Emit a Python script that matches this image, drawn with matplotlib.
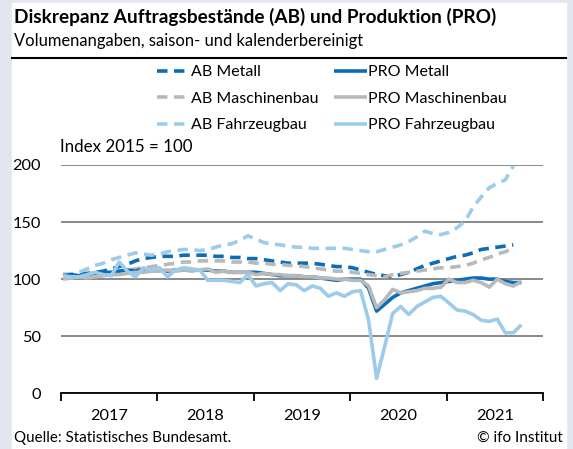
import matplotlib.pyplot as plt
from matplotlib.lines import Line2D
import numpy as np

plt.rcParams['font.family'] = ['Lato', 'DejaVu Sans']

# monthly index values, Jan 2017 onwards (Index 2015 = 100)
years = ['2017', '2018', '2019', '2020', '2021']

ab_metall = [104, 104, 105, 105, 106, 107, 109, 111, 113, 116, 118, 119,
             120, 120, 120, 121, 121, 121, 121, 120, 120, 119, 119, 118,
             118, 117, 116, 115, 114, 114, 114, 114, 113, 112, 111, 111,
             110, 108, 106, 104, 103, 102, 104, 106, 109, 112, 114, 116,
             118, 120, 121, 123, 126, 127, 128, 129, 130]
ab_maschinenbau = [101, 101, 102, 103, 104, 105, 106, 107, 108, 109, 110, 111,
                   112, 113, 114, 115, 115, 116, 116, 116, 116, 115, 115, 115,
                   114, 114, 113, 113, 112, 112, 111, 110, 109, 108, 107, 107,
                   106, 105, 104, 103, 102, 104, 105, 106, 107, 108, 109, 110,
                   110, 111, 112, 114, 117, 119, 122, 124, 127]
ab_fahrzeugbau = [104, 104, 106, 109, 112, 114, 117, 119, 121, 123, 122, 121,
                  122, 124, 125, 126, 126, 125, 126, 128, 130, 131, 134, 138,
                  135, 132, 131, 130, 129, 128, 128, 127, 127, 127, 127, 127,
                  126, 125, 124, 124, 126, 128, 130, 133, 137, 142, 140, 139,
                  141, 145, 151, 163, 172, 180, 184, 187, 199]

pro_metall = [103, 104, 103, 104, 105, 106, 106, 107, 108, 107, 109, 108,
              108, 107, 108, 108, 108, 108, 108, 107, 107, 106, 106, 106,
              106, 105, 104, 103, 103, 103, 102, 102, 101, 100, 99, 100,
              100, 100, 92, 72, 78, 84, 88, 90, 92, 94, 96, 97,
              98, 99, 100, 101, 101, 100, 100, 98, 97, 97]
pro_maschinenbau = [100, 101, 102, 101, 102, 103, 104, 104, 105, 106, 106, 107,
                    107, 108, 107, 108, 107, 108, 109, 106, 107, 106, 106, 106,
                    104, 105, 104, 104, 103, 103, 102, 102, 101, 101, 100, 100,
                    99, 99, 94, 75, 82, 91, 88, 89, 90, 92, 92, 93,
                    100, 97, 97, 99, 97, 93, 100, 96, 94, 98]
pro_fahrzeugbau = [103, 102, 102, 104, 106, 104, 103, 115, 107, 102, 110, 108,
                   110, 102, 108, 110, 109, 108, 99, 99, 99, 98, 97, 104,
                   94, 96, 97, 90, 96, 95, 90, 94, 92, 85, 88, 85,
                   89, 90, 64, 13, 41, 70, 76, 69, 76, 80, 84, 85,
                   79, 73, 72, 69, 64, 63, 65, 53, 53, 60]

dark_blue = '#0b6db7'
grey = '#b9b9b9'
light_blue = '#9dcbea'

fig = plt.figure(figsize=(5.73, 4.49), dpi=100)
fig.patch.set_facecolor('#e1e6ef')
fig.add_artist(plt.Rectangle((12/573, 0), 554/573, 446/449,
                             transform=fig.transFigure, color='white', zorder=0))

ax = fig.add_axes([60.5/573, 55.7/449, 482.5/573, 228.3/449])
ax.set_facecolor('none')

x_ab = np.arange(len(ab_metall)) + 0.31
x_pro = np.arange(len(pro_metall)) + 0.31

lw = 2.6
dash = (2.9, 1.8)
series = [
    (x_ab, ab_metall, dark_blue, 'AB Metall', True),
    (x_ab, ab_maschinenbau, grey, 'AB Maschinenbau', True),
    (x_ab, ab_fahrzeugbau, light_blue, 'AB Fahrzeugbau', True),
    (x_pro, pro_metall, dark_blue, 'PRO Metall', False),
    (x_pro, pro_maschinenbau, grey, 'PRO Maschinenbau', False),
    (x_pro, pro_fahrzeugbau, light_blue, 'PRO Fahrzeugbau', False),
]
handles = []
for xs, ys, col, lab, dashed in series:
    ln, = ax.plot(xs, ys, color=col, lw=lw, label=lab, clip_on=False,
                  solid_joinstyle='round', solid_capstyle='butt')
    if dashed:
        ln.set_dashes(dash)
    handles.append(ln)

ax.set_xlim(0, 60)
ax.set_ylim(0, 200)
ax.set_yticks([0, 50, 100, 150, 200])
ax.yaxis.grid(True, color='#808080', lw=1.3)
ax.set_axisbelow(True)
for s in ['top', 'right', 'left']:
    ax.spines[s].set_visible(False)
ax.spines['bottom'].set_color('black')
ax.spines['bottom'].set_linewidth(1.3)
ax.spines['bottom'].set_zorder(5)
ax.tick_params(axis='y', length=0, pad=14, labelsize=11.8)

ax.set_xticks(np.arange(0, 61, 12))
ax.set_xticklabels([])
ax.set_xticks(np.arange(6, 60, 12), minor=True)
ax.set_xticklabels(years, minor=True)
ax.tick_params(axis='x', which='major', length=6, width=1.3, direction='out')
ax.tick_params(axis='x', which='minor', length=0, pad=11, labelsize=11.8)

fig.legend(handles=handles, ncol=2, loc='upper left',
           bbox_to_anchor=(157/573, 1 - 65/449), frameon=False, fontsize=11.5,
           handlelength=2.1, handletextpad=0.05, columnspacing=0.92,
           labelspacing=0.78, borderpad=0, borderaxespad=0)

fig.text(60/573, 1 - 147/449, 'Index 2015 = 100', fontsize=12.2, va='center')
fig.text(14/573, 1 - 17/449, 'Diskrepanz Auftragsbestände (AB) und Produktion (PRO)',
         fontsize=13.7, weight='bold', va='center')
fig.text(14/573, 1 - 41/449, 'Volumenangaben, saison- und kalenderbereinigt',
         fontsize=11.9, va='center')
fig.add_artist(Line2D([12/573, 566/573], [1 - 58/449, 1 - 58/449],
                      color='black', lw=1.5, transform=fig.transFigure))
fig.text(14/573, 1 - 438/449, 'Quelle: Statistisches Bundesamt.', fontsize=10.9, va='center')
fig.text(563/573, 1 - 438/449, '© ifo Institut', fontsize=11, va='center', ha='right')

fig.savefig('out.png', dpi=100)
